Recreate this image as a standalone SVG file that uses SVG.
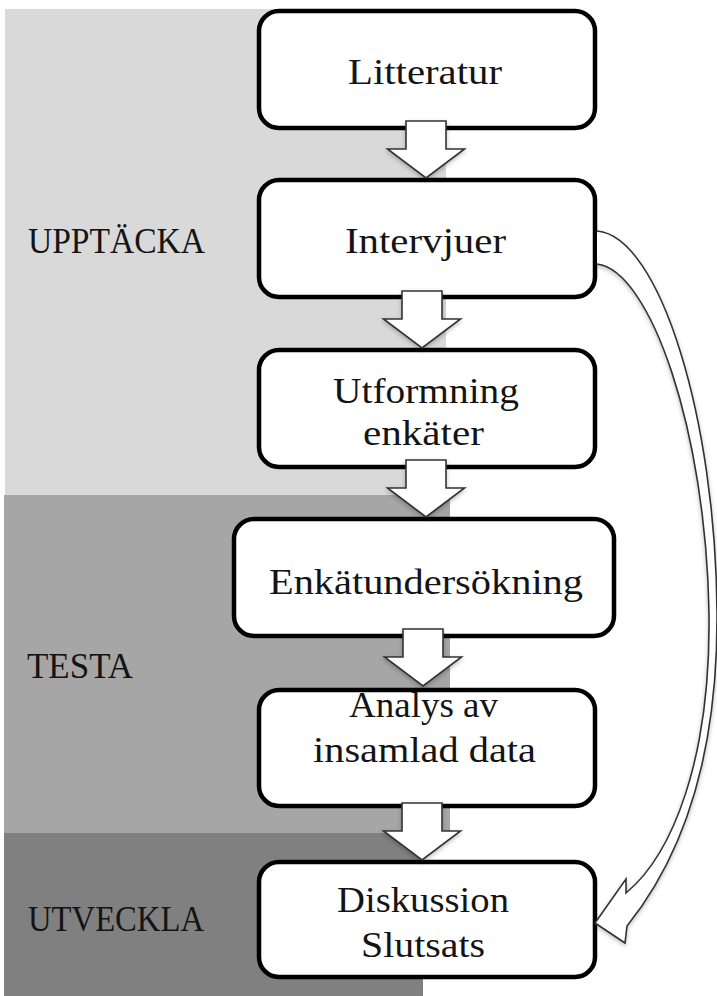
<svg xmlns="http://www.w3.org/2000/svg" width="717" height="996" viewBox="0 0 717 996">
<defs>
<style>
.box{fill:#fff;stroke:#000;stroke-width:4.5}
.lbl{font-family:"Liberation Serif","Times New Roman",serif;font-size:36px;fill:#141414}
.arr{fill:#fff;stroke:#333;stroke-width:1.6;stroke-linejoin:miter}
</style>
<filter id="sh" x="-20%" y="-20%" width="140%" height="150%">
<feDropShadow dx="0" dy="2" stdDeviation="2" flood-color="#000" flood-opacity="0.25"/>
</filter>
<polygon id="down" points="-20,0 20,0 20,28 38.5,28 0,57 -38.5,28 -20,28"/>
</defs>
<rect width="717" height="996" fill="#fff"/>
<g id="bands">
<rect x="5" y="9" width="441" height="486" fill="#d9d9d9"/>
<rect x="4" y="495" width="446" height="338" fill="#a6a6a6"/>
<rect x="4" y="833" width="419" height="163" fill="#808080"/>
<text class="lbl" x="28" y="253" textLength="177" lengthAdjust="spacingAndGlyphs">UPPTÄCKA</text>
<text class="lbl" x="27" y="678" textLength="106" lengthAdjust="spacingAndGlyphs">TESTA</text>
<text class="lbl" x="28" y="931" textLength="176" lengthAdjust="spacingAndGlyphs">UTVECKLA</text>
</g>
<g id="n1"><rect class="box" x="259" y="11" width="336" height="117" rx="20"/>
<text class="lbl" x="348" y="84" textLength="154" lengthAdjust="spacingAndGlyphs">Litteratur</text></g>
<g id="n2"><rect class="box" x="259" y="180" width="336" height="117" rx="20"/>
<text class="lbl" x="345" y="253" textLength="161" lengthAdjust="spacingAndGlyphs">Intervjuer</text></g>
<g id="n3"><rect class="box" x="259" y="350" width="336" height="117" rx="20"/>
<text class="lbl" x="333" y="403" textLength="186" lengthAdjust="spacingAndGlyphs">Utformning</text>
<text class="lbl" x="363" y="445" textLength="121" lengthAdjust="spacingAndGlyphs">enkäter</text></g>
<g id="n4"><rect class="box" x="234" y="519" width="380" height="117" rx="20"/>
<text class="lbl" x="269" y="594" textLength="314" lengthAdjust="spacingAndGlyphs">Enkätundersökning</text></g>
<g id="n5"><rect class="box" x="259" y="690" width="336" height="116" rx="20"/>
<text class="lbl" x="349" y="717" textLength="149" lengthAdjust="spacingAndGlyphs">Analys av</text>
<text class="lbl" x="313" y="762" textLength="223" lengthAdjust="spacingAndGlyphs">insamlad data</text></g>
<g id="n6"><rect class="box" x="259" y="862" width="336" height="115" rx="20"/>
<text class="lbl" x="337" y="912" textLength="172" lengthAdjust="spacingAndGlyphs">Diskussion</text>
<text class="lbl" x="361" y="957" textLength="124" lengthAdjust="spacingAndGlyphs">Slutsats</text></g>
<g id="connectors" filter="url(#sh)">
<use href="#down" class="arr" x="426" y="121"/>
<use href="#down" class="arr" x="422" y="291"/>
<use href="#down" class="arr" x="426" y="460"/>
<use href="#down" class="arr" x="423" y="629"/>
<use href="#down" class="arr" x="422" y="803"/>
<path class="arr" d="M597,231 C660,236 716,420 717,613 C718,760 680,860 627,926 L625,943 L595,923 L626,879 L626,893 C672,855 711,760 709,613 C706,430 650,270 597,264"/>
</g>
</svg>
